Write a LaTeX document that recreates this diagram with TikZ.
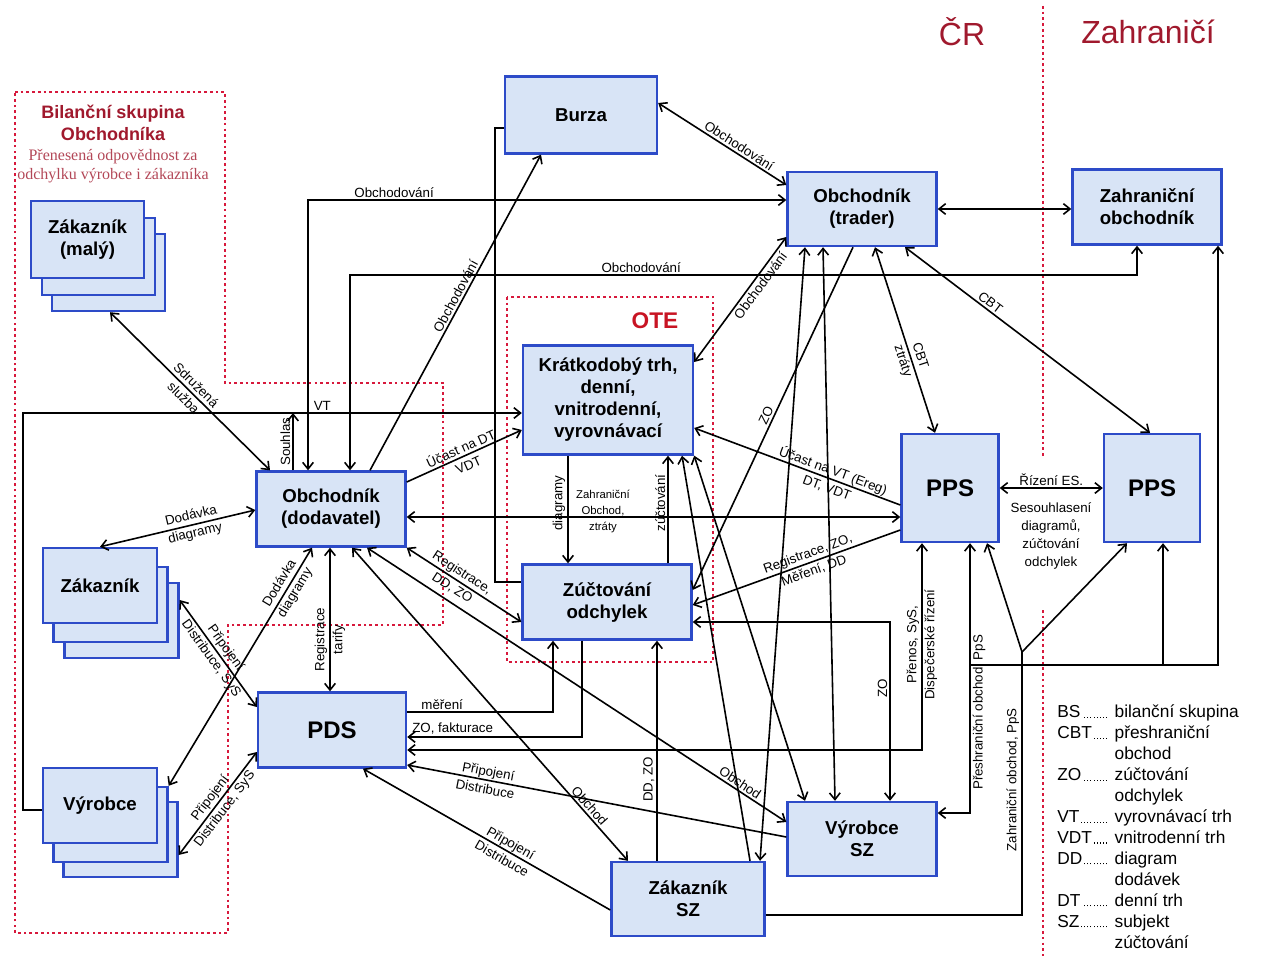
\documentclass[tikz,border=0pt]{standalone}
\usepackage{fontspec}
\setmainfont{Liberation Sans}
\newfontfamily\notefont{Liberation Serif}
\usetikzlibrary{arrows.meta, positioning}

\definecolor{boxfill}{RGB}{216,228,246}
\definecolor{boxblue}{RGB}{45,75,200}
\definecolor{dotred}{RGB}{215,25,60}
\definecolor{titlered}{RGB}{160,25,45}
\definecolor{otered}{RGB}{200,20,35}

\newcommand{\lgdots}{\leaders\hbox to 2.4pt{\hss\rule{0.8pt}{0.8pt}\hss}\hfill}
\newcommand{\lgabbr}[1]{\hbox to 43pt{#1\lgdots\hspace{3pt}}}

\begin{document}
\begin{tikzpicture}[x=0.75pt, y=-0.75pt, >={Straight Barb[length=5pt,width=8pt]},
    box/.style={draw=boxblue, fill=boxfill, line width=1.8pt, align=center,
                font=\fontsize{14}{16.5}\selectfont\bfseries, inner sep=2pt},
    bigbox/.style={box, font=\fontsize{18}{20}\selectfont\bfseries},
    lbl/.style={font=\fontsize{10}{13.5}\selectfont, align=center, inner sep=1.5pt},
    conn/.style={line width=1.2pt},
    region/.style={draw=dotred, line width=2pt, dash pattern=on 2pt off 2.3pt}]
\useasboundingbox (0,0) rectangle (1262,956);

% dotted regions
\draw[region] (15,92) -- (225,92) -- (225,383) -- (443,383) -- (443,625)
   -- (228,625) -- (228,933) -- (15,933) -- cycle;
\draw[region] (507,297) rectangle (713,662);
\draw[region] (1043,6) -- (1043,457);
\draw[region] (1043,610) -- (1043,956);

% titles
\node[font=\fontsize{24}{28}\selectfont, text=titlered] (cr) at (962,32) {ČR};
\node[font=\fontsize{24}{28}\selectfont, text=titlered] (abroad) at (1148,32) {Zahraničí};
\node[font=\fontsize{13.5}{16.5}\selectfont\bfseries, text=titlered, align=center] (bsk) at (113,123) {Bilanční skupina\\Obchodníka};
\node[font=\notefont\fontsize{12}{14}\selectfont, text=titlered!80!white, align=center] (bsknote) at (113,166) {Přenesená odpovědnost za\\odchylku výrobce i zákazníka};
\node[font=\fontsize{17}{20}\selectfont\bfseries, text=otered] (ote) at (655,321) {OTE};

% boxes
\node[box, minimum width=114pt, minimum height=57.75pt] (burza) at (581,115) {Burza};
\node[box, minimum width=111.75pt, minimum height=55.5pt] (trader) at (862,209) {Obchodník\\(trader)};
\node[box, minimum width=111.75pt, minimum height=56.25pt] (zahr) at (1147,207) {Zahraniční\\obchodník};
\node[box, minimum width=127.5pt, minimum height=81.75pt] (kratko) at (608,400) {Krátkodobý trh,\\denní,\\vnitrodenní,\\vyrovnávací};
\node[box, minimum width=126.75pt, minimum height=56.25pt] (zuct) at (607,602) {Zúčtování\\odchylek};
\node[box, minimum width=111.75pt, minimum height=56.25pt] (dod) at (331,509) {Obchodník\\(dodavatel)};
\node[bigbox, minimum width=72.75pt, minimum height=81pt] (pps) at (950,488) {PPS};
\node[bigbox, minimum width=72pt, minimum height=81pt] (ppsz) at (1152,488) {PPS};
\node[bigbox, minimum width=111pt, minimum height=56.25pt] (pds) at (332,730) {PDS};
\node[box, minimum width=111.75pt, minimum height=55.5pt] (vyrsz) at (862,839) {Výrobce\\SZ};
\node[box, minimum width=114.75pt, minimum height=55.5pt] (zaksz) at (688,899) {Zákazník\\SZ};

\node[box, minimum width=84.75pt, minimum height=57.75pt] (maly3) at (108.5,272.5) {};
\node[box, minimum width=84.75pt, minimum height=57.75pt] (maly2) at (98.5,256.5) {};
\node[box, minimum width=84.75pt, minimum height=57.75pt] (maly) at (87.5,239.5) {Zákazník\\(malý)};
\node[box, minimum width=85.5pt, minimum height=56.25pt] (zak3) at (121.5,620.5) {};
\node[box, minimum width=85.5pt, minimum height=56.25pt] (zak2) at (110.5,604.5) {};
\node[box, minimum width=85.5pt, minimum height=56.25pt] (zak) at (100,585.5) {Zákazník};
\node[box, minimum width=85.5pt, minimum height=56.25pt] (vyr3) at (120.5,839.5) {};
\node[box, minimum width=85.5pt, minimum height=56.25pt] (vyr2) at (110.5,824.5) {};
\node[box, minimum width=85.5pt, minimum height=56.25pt] (vyr) at (100,805.5) {Výrobce};

% trading
\path[conn]
  (burza.east |- 0,103) edge[<->] node[lbl, sloped, above, pos=.6] {Obchodování} (trader.west |- 0,185)
  (370,0 |- dod.north) edge[->] node[lbl, sloped, above, pos=.54] {Obchodování} (541,0 |- burza.south)
  (kratko.east |- 0,362) edge[<->] node[lbl, sloped, below, pos=.65] {Obchodování} (trader.west |- 0,237)
  (trader.east) edge[<->] (zahr.west |- trader.east)
  (875,0 |- trader.south) edge[<->] node[lbl, sloped, pos=.6] {CBT\\ztráty} (935,0 |- pps.north)
  (905,0 |- trader.south) edge[<->] node[lbl, sloped, above, pos=.33] {CBT} (1150,0 |- ppsz.north)
  (853,0 |- trader.south) edge[->] node[lbl, sloped, above] {ZO} (zuct.east |- 0,590)
  (805,0 |- trader.south) edge[<->] (760,0 |- zaksz.north)
  (823,0 |- trader.south) edge[<->] (835,0 |- vyrsz.north);
\draw[conn, <->] (trader.west |- 0,200) -| node[lbl, above, pos=.41] {Obchodování} (308,0 |- dod.north);
\draw[conn, <->] (350,0 |- dod.north) -- (350,275) -- node[lbl, above, pos=.37] {Obchodování} (1137,275) -- (1137,0 |- zahr.south);
\draw[conn] (burza.west |- 0,128) -- (495,128) |- (zuct.west |- 0,582);

% OTE
\path[conn]
  (dod.east |- 0,482) edge[->] node[lbl, sloped] {Účast na DT\\VDT} (kratko.west |- 0,430)
  (568,0 |- zuct.north) edge[<-] node[lbl, sloped, above, pos=.56] {diagramy} (568,0 |- kratko.south)
  (668,0 |- zuct.north) edge[->] node[lbl, sloped, above, pos=.56] {zúčtování} (668,0 |- kratko.south)
  (pps.west |- 0,505) edge[->] node[lbl, sloped, pos=.34] {Účast na VT (Ereg)\\DT, VDT} (kratko.east |- 0,428)
  (pps.west |- 0,530) edge[->] node[lbl, sloped, pos=.43] {Registrace, ZO,\\Měření, DD} (zuct.east |- 0,605)
  (pps.west |- 0,517) edge[<->] (dod.east |- 0,517)
  (kratko.south east) edge[<->] (805,0 |- vyrsz.north)
  (750,0 |- zaksz.north) edge[->] (682,0 |- kratko.south)
  (dod.south east) edge[<->] node[lbl, sloped, pos=.44] {Registrace,\\DD, ZO} (zuct.west |- 0,622)
  (657,0 |- zaksz.north) edge[->] node[lbl, sloped, above, pos=.37] {DD, ZO} (657,0 |- zuct.south);
\node[font=\fontsize{8.5}{12}\selectfont, align=center] (foreign) at (603,511) {Zahraniční\\Obchod,\\ztráty};

% left side
\path[conn]
  (110,0 |- maly3.south) edge[<->] node[lbl, sloped] {Sdružená\\služba} (270,0 |- dod.north)
  (293,0 |- dod.north) edge[->] node[lbl, sloped, above] {Souhlas} (293,413)
  (100,0 |- zak.north) edge[<->] node[lbl, sloped, pos=.6] {Dodávka\\diagramy} (dod.west |- 0,510)
  (vyr2.north east) edge[<->] node[lbl, sloped, pos=.83] {Dodávka\\diagramy} (312,0 |- dod.south)
  (zak3.east |- 0,600) edge[<->] node[lbl, sloped] {Připojení\\Distribuce, SyS} (pds.west |- 0,707)
  (vyr3.east |- 0,855) edge[<->] node[lbl, sloped] {Připojení\\Distribuce, SyS} (pds.west |- 0,752)
  (330,0 |- pds.north) edge[<->] node[lbl, sloped, pos=.36] {Registrace\\tarify} (330,0 |- dod.south);
\draw[conn, ->] (vyr.west |- 0,810) -- (23,810) |- node[lbl, above, pos=.8] {VT} (kratko.west |- 0,413);

% bottom
\path[conn]
  (352,0 |- dod.south) edge[<->] node[lbl, sloped, above, pos=.84] {Obchod} (628,0 |- zaksz.north)
  (367,0 |- dod.south) edge[<->] node[lbl, sloped, above, pos=.88] {Obchod} (vyrsz.west |- 0,822)
  (vyrsz.west |- 0,837) edge[->] node[lbl, sloped, pos=.79] {Připojení\\Distribuce} (pds.east |- 0,765)
  (zaksz.west |- 0,910) edge[->] node[lbl, sloped, pos=.42] {Připojení\\Distribuce} (363,0 |- pds.south);
\draw[conn, ->] (pds.east |- 0,712) -| node[lbl, above, pos=.12] {měření} (553,0 |- zuct.south);
\draw[conn, ->] (582,0 |- zuct.south) |- node[lbl, above, pos=.87] {ZO, fakturace} (pds.east |- 0,737);
\draw[conn, <->] (pds.east |- 0,750) -| node[lbl, rotate=90, pos=.755] {Přenos, SyS,\\Dispečerské řízení} (922,0 |- pps.south);
\draw[conn, <->] (zuct.east |- 0,622) -| node[lbl, rotate=90, above, pos=.685] {ZO} (890,0 |- vyrsz.north);

% PPS and abroad
\path[conn] (pps.east) edge[<->] node[lbl, above] {Řízení ES.} (ppsz.west);
\node[font=\fontsize{10}{13.5}\selectfont, align=center] (agree) at (1051,536) {Sesouhlasení\\diagramů,\\zúčtování\\odchylek};
\coordinate (zsplit) at (1022,652);
\coordinate (bus) at (970,665);
\draw[conn] (zaksz.east |- 0,915) -| node[lbl, rotate=90, above, pos=.757] {Zahraniční obchod, PpS} (zsplit);
\path[conn, ->]
  (zsplit) edge (987,0 |- pps.south)
  (zsplit) edge (1127,0 |- ppsz.south);
\draw[conn, <-] (vyrsz.east |- 0,813) -| node[lbl, rotate=90, below, pos=.84] {Přeshraniční obchod, PpS} (bus);
\draw[conn, ->] (bus) -- (970,0 |- pps.south);
\draw[conn, ->] (bus) -- (1218,0 |- bus) -- (1218,0 |- zahr.south);
\draw[conn, ->] (1163,0 |- bus) -- (1163,0 |- ppsz.south);

% legend
\node[anchor=north west, inner sep=0pt, font=\fontsize{13}{15.7}\selectfont] (legend) at (1057,703) {%
  \begin{tabular}{@{}l@{}l@{}}
    \lgabbr{BS} & bilanční skupina\\
    \lgabbr{CBT} & přeshraniční\\
    & obchod\\
    \lgabbr{ZO} & zúčtování\\
    & odchylek\\
    \lgabbr{VT} & vyrovnávací trh\\
    \lgabbr{VDT} & vnitrodenní trh\\
    \lgabbr{DD} & diagram\\
    & dodávek\\
    \lgabbr{DT} & denní trh\\
    \lgabbr{SZ} & subjekt\\
    & zúčtování
  \end{tabular}};
\end{tikzpicture}
\end{document}
